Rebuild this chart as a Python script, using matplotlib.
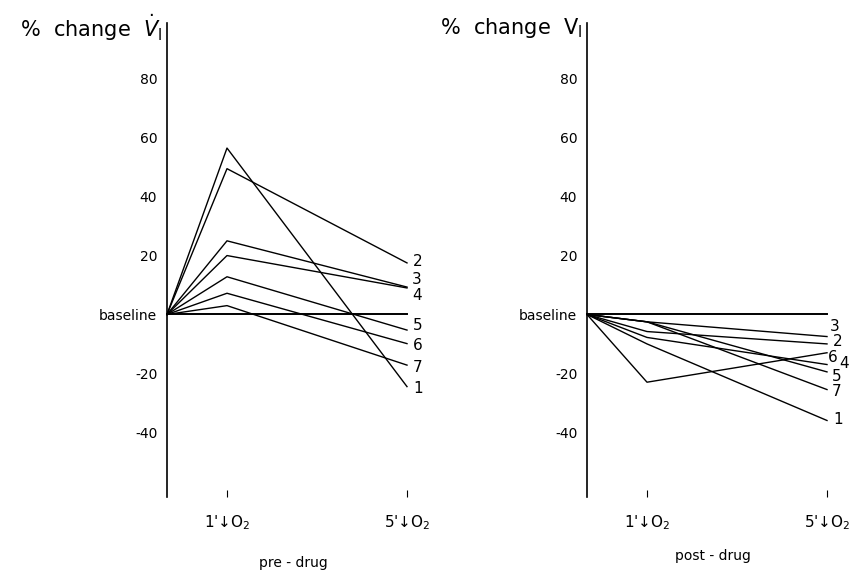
import matplotlib.pyplot as plt

# time points: baseline, 1 min and 5 min of O2 (x positions 0, 1, 4)
times = [0, 1, 4]
tick_labels = ["1'↓O$_2$", "5'↓O$_2$"]
y_ticks = [80, 60, 40, 20, 0, -20, -40]
y_tick_labels = ['80', '60', '40', '20', 'baseline', '-20', '-40']

subjects = ['1', '2', '3', '4', '5', '6', '7']

# % change in inspired ventilation, pre-drug
pre_1min = [56.5, 49.5, 25.0, 20.0, 12.8, 7.2, 3.0]
pre_5min = [-24.5, 17.5, 9.3, 9.0, -5.3, -9.9, -17.2]

# % change in inspired ventilation, post-drug
post_1min = [-10.0, -5.8, -2.5, -7.8, -2.5, -23.0, -2.5]
post_5min = [-36.0, -10.0, -7.5, -17.0, -19.5, -13.0, -25.5]

# label nudges (layout only)
pre_label_dy = {'1': -0.8, '2': 0.5, '3': 2.6, '4': -2.6, '5': 1.6, '6': -0.6, '7': -0.8}
pre_label_dx = {'1': 0.1, '2': 0.1, '3': 0.08, '4': 0.08, '5': 0.1, '6': 0.1, '7': 0.1}
post_label_dy = {'1': 0.4, '2': 0.9, '3': 3.5, '4': 0.3, '5': -1.5, '6': -1.6, '7': -0.5}
post_label_dx = {'1': 0.1, '2': 0.1, '3': 0.05, '4': 0.2, '5': 0.08, '6': 0.02, '7': 0.08}

plt.rcParams['font.family'] = ['DejaVu Sans']

fig = plt.figure(figsize=(8.51, 5.72), dpi=100)
ax1 = fig.add_axes([167 / 851, 0.131, 252 / 851, 0.829])
ax2 = fig.add_axes([587 / 851, 0.131, 252 / 851, 0.829])


def draw_panel(ax, first, second, dx, dy, title, xlabel, xlabel_y):
    for name, a, b in zip(subjects, first, second):
        ax.plot(times, [0, a, b], color='black', lw=1.0, clip_on=False)
        ax.text(times[-1] + dx[name], b + dy[name], name, fontsize=11,
                ha='left', va='center', clip_on=False)
    ax.plot([times[0], times[-1]], [0, 0], color='black', lw=1.4, clip_on=False)

    ax.set_xlim(0, 4.2)
    ax.set_ylim(-62, 99)
    ax.set_yticks(y_ticks)
    ax.set_yticklabels(y_tick_labels, fontsize=10)
    ax.tick_params(axis='y', length=0, pad=7)
    ax.set_xticks(times[1:])
    ax.set_xticklabels(tick_labels, fontsize=11)
    ax.tick_params(axis='x', direction='in', length=5, width=0.8, pad=12)
    for side in ['top', 'right', 'bottom']:
        ax.spines[side].set_visible(False)
    ax.spines['left'].set_linewidth(1.2)
    ax.patch.set_visible(False)

    ax.text(-0.02, 0.99, title, transform=ax.transAxes, fontsize=15,
            ha='right', va='center')
    ax.text(0.5, xlabel_y, xlabel, transform=ax.transAxes, fontsize=10,
            ha='center', va='center')


draw_panel(ax1, pre_1min, pre_5min, pre_label_dx, pre_label_dy,
           "%  change  $\\dot{V}_{\\mathrm{I}}$", "pre - drug", -0.14)
draw_panel(ax2, post_1min, post_5min, post_label_dx, post_label_dy,
           "%  change  V$_{\\mathrm{I}}$", "post - drug", -0.125)

fig.savefig('out.png', dpi=100)
